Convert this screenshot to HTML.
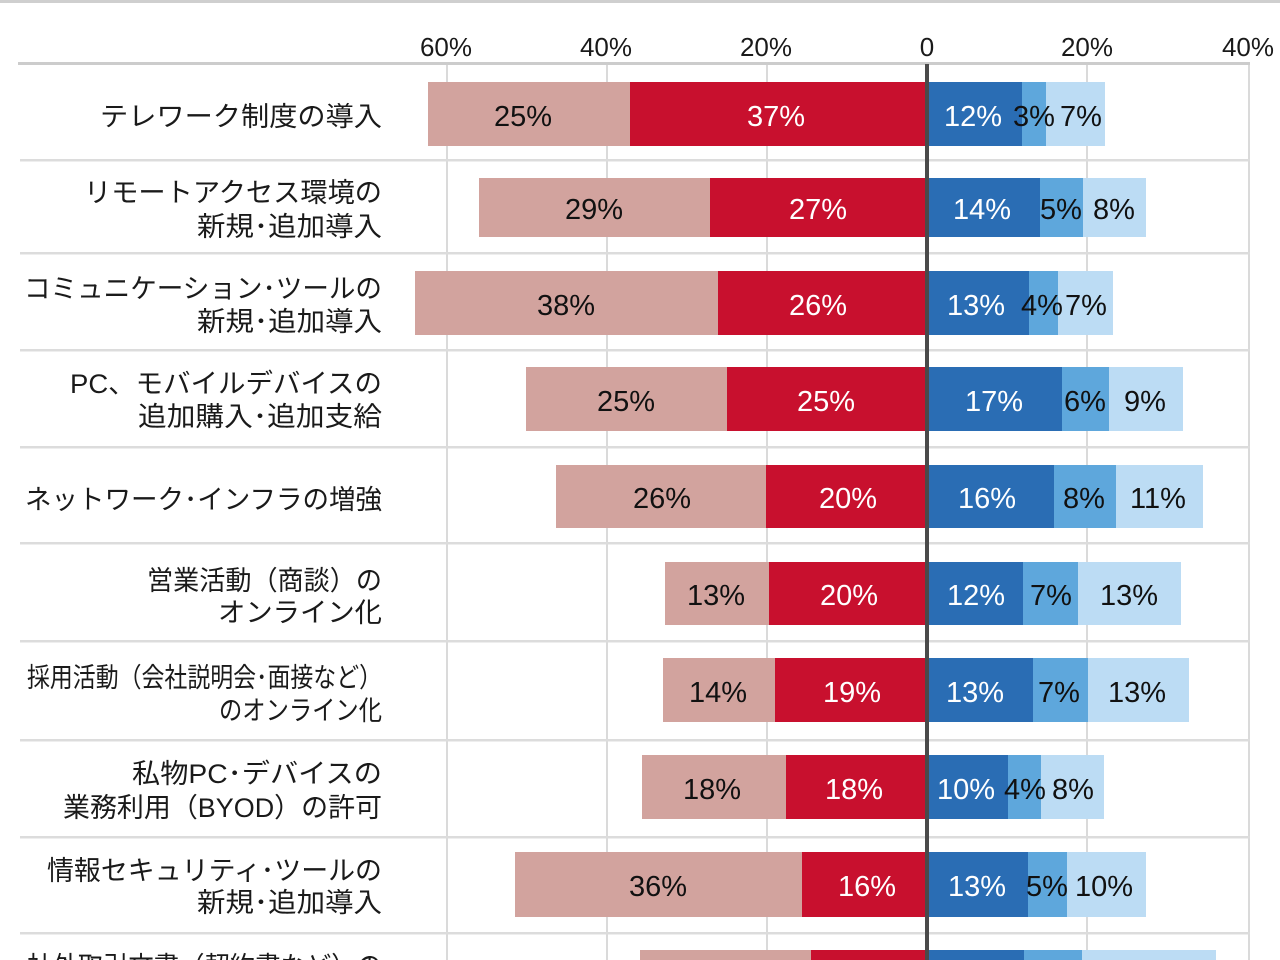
<!DOCTYPE html>
<html>
<head>
<meta charset="utf-8">
<style>
  html, body { margin:0; padding:0; background:#fff; }
  body { width:1280px; height:960px; overflow:hidden; }
  svg { display:block; }
  .lab { font-family:"Liberation Sans","Noto Sans CJK JP",sans-serif; font-size:27px; fill:#1a1a1a; text-anchor:end; }
  .ax { font-family:"Liberation Sans",sans-serif; font-size:26px; fill:#1a1a1a; text-anchor:middle; }
  .v { font-family:"Liberation Sans",sans-serif; font-size:29px; text-anchor:middle; fill:#111; }
  .w { fill:#fff; }
</style>
</head>
<body>
<svg width="1280" height="960" viewBox="0 0 1280 960" xmlns="http://www.w3.org/2000/svg">
  <rect x="0" y="0" width="1280" height="960" fill="#fff"/>
  <!-- top border -->
  <rect x="0" y="0" width="1280" height="3" fill="#cfcfcf"/>

  <!-- axis labels -->
  <text class="ax" x="446" y="56">60%</text>
  <text class="ax" x="606" y="56">40%</text>
  <text class="ax" x="766" y="56">20%</text>
  <text class="ax" x="927" y="56">0</text>
  <text class="ax" x="1087" y="56">20%</text>
  <text class="ax" x="1248" y="56">40%</text>

  <!-- vertical gridlines -->
  <g fill="#dadada">
    <rect x="446" y="64" width="2" height="896"/>
    <rect x="606" y="64" width="2" height="896"/>
    <rect x="766" y="64" width="2" height="896"/>
    <rect x="1086" y="64" width="2" height="896"/>
    <rect x="1248" y="64" width="2" height="896"/>
  </g>
  <!-- horizontal lines -->
  <rect x="18" y="62" width="1232" height="3" fill="#cccccc"/>
  <g fill="#dcdcdc">
    <rect x="20" y="159" width="1230" height="2.5"/>
    <rect x="20" y="252" width="1230" height="2.5"/>
    <rect x="20" y="349" width="1230" height="2.5"/>
    <rect x="20" y="446" width="1230" height="2.5"/>
    <rect x="20" y="542" width="1230" height="2.5"/>
    <rect x="20" y="640" width="1230" height="2.5"/>
    <rect x="20" y="739" width="1230" height="2.5"/>
    <rect x="20" y="836" width="1230" height="2.5"/>
    <rect x="20" y="932" width="1230" height="2.5"/>
  </g>

  <!-- bars -->
  <g>
    <!-- row1 -->
    <rect x="428" y="82" width="202" height="64" fill="#d2a39e"/>
    <rect x="630" y="82" width="297" height="64" fill="#c8102e"/>
    <rect x="927" y="82" width="95" height="64" fill="#2a6db4"/>
    <rect x="1022" y="82" width="24" height="64" fill="#5ea7dc"/>
    <rect x="1046" y="82" width="59" height="64" fill="#bcdcf4"/>
    <!-- row2 -->
    <rect x="479" y="178" width="231" height="59" fill="#d2a39e"/>
    <rect x="710" y="178" width="217" height="59" fill="#c8102e"/>
    <rect x="927" y="178" width="113" height="59" fill="#2a6db4"/>
    <rect x="1040" y="178" width="43" height="59" fill="#5ea7dc"/>
    <rect x="1083" y="178" width="63" height="59" fill="#bcdcf4"/>
    <!-- row3 -->
    <rect x="415" y="271" width="303" height="64" fill="#d2a39e"/>
    <rect x="718" y="271" width="209" height="64" fill="#c8102e"/>
    <rect x="927" y="271" width="102" height="64" fill="#2a6db4"/>
    <rect x="1029" y="271" width="29" height="64" fill="#5ea7dc"/>
    <rect x="1058" y="271" width="55" height="64" fill="#bcdcf4"/>
    <!-- row4 -->
    <rect x="526" y="367" width="201" height="64" fill="#d2a39e"/>
    <rect x="727" y="367" width="200" height="64" fill="#c8102e"/>
    <rect x="927" y="367" width="135" height="64" fill="#2a6db4"/>
    <rect x="1062" y="367" width="47" height="64" fill="#5ea7dc"/>
    <rect x="1109" y="367" width="74" height="64" fill="#bcdcf4"/>
    <!-- row5 -->
    <rect x="556" y="465" width="210" height="63" fill="#d2a39e"/>
    <rect x="766" y="465" width="161" height="63" fill="#c8102e"/>
    <rect x="927" y="465" width="127" height="63" fill="#2a6db4"/>
    <rect x="1054" y="465" width="62" height="63" fill="#5ea7dc"/>
    <rect x="1116" y="465" width="87" height="63" fill="#bcdcf4"/>
    <!-- row6 -->
    <rect x="665" y="562" width="104" height="63" fill="#d2a39e"/>
    <rect x="769" y="562" width="158" height="63" fill="#c8102e"/>
    <rect x="927" y="562" width="96" height="63" fill="#2a6db4"/>
    <rect x="1023" y="562" width="55" height="63" fill="#5ea7dc"/>
    <rect x="1078" y="562" width="103" height="63" fill="#bcdcf4"/>
    <!-- row7 -->
    <rect x="663" y="658" width="112" height="64" fill="#d2a39e"/>
    <rect x="775" y="658" width="152" height="64" fill="#c8102e"/>
    <rect x="927" y="658" width="106" height="64" fill="#2a6db4"/>
    <rect x="1033" y="658" width="55" height="64" fill="#5ea7dc"/>
    <rect x="1088" y="658" width="101" height="64" fill="#bcdcf4"/>
    <!-- row8 -->
    <rect x="642" y="755" width="144" height="64" fill="#d2a39e"/>
    <rect x="786" y="755" width="141" height="64" fill="#c8102e"/>
    <rect x="927" y="755" width="81" height="64" fill="#2a6db4"/>
    <rect x="1008" y="755" width="33" height="64" fill="#5ea7dc"/>
    <rect x="1041" y="755" width="63" height="64" fill="#bcdcf4"/>
    <!-- row9 -->
    <rect x="515" y="852" width="287" height="65" fill="#d2a39e"/>
    <rect x="802" y="852" width="125" height="65" fill="#c8102e"/>
    <rect x="927" y="852" width="101" height="65" fill="#2a6db4"/>
    <rect x="1028" y="852" width="39" height="65" fill="#5ea7dc"/>
    <rect x="1067" y="852" width="79" height="65" fill="#bcdcf4"/>
    <!-- row10 -->
    <rect x="640" y="950" width="171" height="10" fill="#d2a39e"/>
    <rect x="811" y="950" width="116" height="10" fill="#c8102e"/>
    <rect x="927" y="950" width="97" height="10" fill="#2a6db4"/>
    <rect x="1024" y="950" width="58" height="10" fill="#5ea7dc"/>
    <rect x="1082" y="950" width="134" height="10" fill="#bcdcf4"/>
  </g>

  <!-- zero axis -->
  <rect x="925" y="64" width="4" height="896" fill="#4a4a4a"/>

  <!-- value labels -->
  <g>
    <text class="v" x="523" y="126">25%</text>
    <text class="v w" x="776" y="126">37%</text>
    <text class="v w" x="973" y="126">12%</text>
    <text class="v" x="1034" y="126">3%</text>
    <text class="v" x="1081" y="126">7%</text>

    <text class="v" x="594" y="219">29%</text>
    <text class="v w" x="818" y="219">27%</text>
    <text class="v w" x="982" y="219">14%</text>
    <text class="v" x="1061" y="219">5%</text>
    <text class="v" x="1114" y="219">8%</text>

    <text class="v" x="566" y="315">38%</text>
    <text class="v w" x="818" y="315">26%</text>
    <text class="v w" x="976" y="315">13%</text>
    <text class="v" x="1042" y="315">4%</text>
    <text class="v" x="1086" y="315">7%</text>

    <text class="v" x="626" y="411">25%</text>
    <text class="v w" x="826" y="411">25%</text>
    <text class="v w" x="994" y="411">17%</text>
    <text class="v" x="1085" y="411">6%</text>
    <text class="v" x="1145" y="411">9%</text>

    <text class="v" x="662" y="508">26%</text>
    <text class="v w" x="848" y="508">20%</text>
    <text class="v w" x="987" y="508">16%</text>
    <text class="v" x="1084" y="508">8%</text>
    <text class="v" x="1158" y="508">11%</text>

    <text class="v" x="716" y="605">13%</text>
    <text class="v w" x="849" y="605">20%</text>
    <text class="v w" x="976" y="605">12%</text>
    <text class="v" x="1051" y="605">7%</text>
    <text class="v" x="1129" y="605">13%</text>

    <text class="v" x="718" y="702">14%</text>
    <text class="v w" x="852" y="702">19%</text>
    <text class="v w" x="975" y="702">13%</text>
    <text class="v" x="1059" y="702">7%</text>
    <text class="v" x="1137" y="702">13%</text>

    <text class="v" x="712" y="799">18%</text>
    <text class="v w" x="854" y="799">18%</text>
    <text class="v w" x="966" y="799">10%</text>
    <text class="v" x="1025" y="799">4%</text>
    <text class="v" x="1073" y="799">8%</text>

    <text class="v" x="658" y="896">36%</text>
    <text class="v w" x="867" y="896">16%</text>
    <text class="v w" x="977" y="896">13%</text>
    <text class="v" x="1047" y="896">5%</text>
    <text class="v" x="1104" y="896">10%</text>
  </g>

  <!-- category labels -->
  <g>
    <text class="lab" x="382" y="126" textLength="282" lengthAdjust="spacingAndGlyphs">テレワーク制度の導入</text>

    <text class="lab" x="382" y="202" textLength="298" lengthAdjust="spacingAndGlyphs">リモートアクセス環境の</text>
    <text class="lab" x="382" y="236" textLength="185" lengthAdjust="spacingAndGlyphs">新規･追加導入</text>

    <text class="lab" x="382" y="298" textLength="358" lengthAdjust="spacingAndGlyphs">コミュニケーション･ツールの</text>
    <text class="lab" x="382" y="331" textLength="185" lengthAdjust="spacingAndGlyphs">新規･追加導入</text>

    <text class="lab" x="382" y="393" textLength="312" lengthAdjust="spacingAndGlyphs">PC、モバイルデバイスの</text>
    <text class="lab" x="382" y="426" textLength="244" lengthAdjust="spacingAndGlyphs">追加購入･追加支給</text>

    <text class="lab" x="382" y="509" textLength="357" lengthAdjust="spacingAndGlyphs">ネットワーク･インフラの増強</text>

    <text class="lab" x="382" y="590" textLength="235" lengthAdjust="spacingAndGlyphs">営業活動（商談）の</text>
    <text class="lab" x="382" y="622" textLength="164" lengthAdjust="spacingAndGlyphs">オンライン化</text>

    <text class="lab" x="382" y="687" textLength="355" lengthAdjust="spacingAndGlyphs">採用活動（会社説明会･面接など）</text>
    <text class="lab" x="382" y="720" textLength="163" lengthAdjust="spacingAndGlyphs">のオンライン化</text>

    <text class="lab" x="382" y="783" textLength="250" lengthAdjust="spacingAndGlyphs">私物PC･デバイスの</text>
    <text class="lab" x="382" y="817" textLength="319" lengthAdjust="spacingAndGlyphs">業務利用（BYOD）の許可</text>

    <text class="lab" x="382" y="880" textLength="335" lengthAdjust="spacingAndGlyphs">情報セキュリティ･ツールの</text>
    <text class="lab" x="382" y="912" textLength="185" lengthAdjust="spacingAndGlyphs">新規･追加導入</text>

    <text class="lab" x="382" y="976" textLength="355" lengthAdjust="spacingAndGlyphs">社外取引文書（契約書など）の</text>
  </g>
</svg>
</body>
</html>
